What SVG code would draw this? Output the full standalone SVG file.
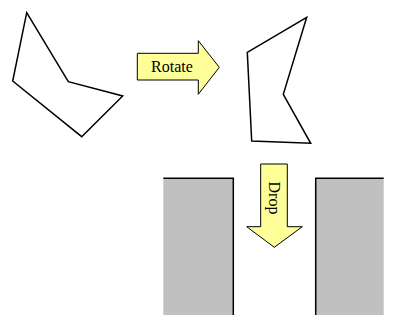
<svg xmlns="http://www.w3.org/2000/svg" width="400" height="328" viewBox="0 0 400 328">
<style>
.shape{fill:#fff;stroke:#000;stroke-width:1.5;stroke-linejoin:miter}
.arrow{fill:#ffff99;stroke:#000;stroke-width:1}
.wall{fill:#c0c0c0;stroke:none}
.edge{fill:none;stroke:#000;stroke-width:1.5}
.lbl{font-family:"Liberation Serif","Times New Roman",serif;font-size:16px;fill:#000}
</style>
<rect width="400" height="328" fill="#fff"/>
<g id="shape-before"><polygon class="shape" points="26.7,12.7 68.3,81.7 122.7,96 81.7,136.7 12.7,81"/></g>
<g id="shape-after"><polygon class="shape" points="306.7,17.3 283.3,94.3 310.7,143.3 251.7,141 247.3,52.3"/></g>
<g id="wall-left"><rect class="wall" x="163.3" y="178.3" width="70" height="136.7"/><polyline class="edge" points="163.3,178.3 233.3,178.3 233.3,315"/></g>
<g id="wall-right"><rect class="wall" x="315.7" y="178.3" width="68" height="136.7"/><polyline class="edge" points="383.7,178.3 315.7,178.3 315.7,315"/></g>
<g id="connectors">
<g id="rotate"><polygon class="arrow" points="137.3,53.3 198.3,53.3 198.3,40.7 219.3,67.3 198.3,94.3 198.3,80 137.3,80"/><text class="lbl" x="172" y="71.5" text-anchor="middle">Rotate</text></g>
<g id="drop"><polygon class="arrow" points="260.7,164 287.3,164 287.3,226.7 302.3,226.7 274.3,247.3 246.7,226.7 260.7,226.7"/><text class="lbl" transform="translate(268.5,198) rotate(90)" text-anchor="middle">Drop</text></g>
</g>
</svg>
